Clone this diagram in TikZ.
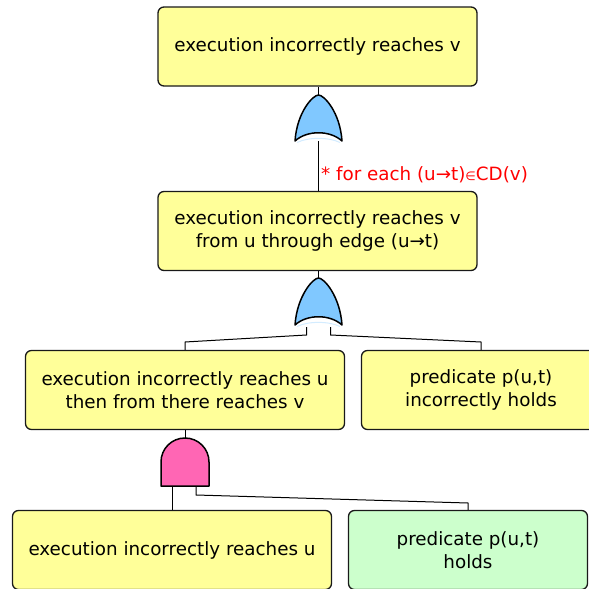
\documentclass[tikz,border=0pt]{standalone}
\usepackage{fontspec}
\setmainfont{DejaVu Sans}
\definecolor{boxyellow}{RGB}{255,255,153}
\definecolor{boxgreen}{RGB}{204,255,204}
\definecolor{gateblue}{RGB}{128,200,255}
\definecolor{gatepink}{RGB}{255,102,180}
\definecolor{edgecol}{RGB}{25,25,25}
\definecolor{labred}{RGB}{255,0,0}
\tikzset{
  event/.style={draw=edgecol, line width=1.3pt, rounded corners=6pt, fill=boxyellow,
    align=center, inner sep=0pt, minimum height=79pt,
    font=\fontsize{18.3}{23}\selectfont},
  wide/.style={minimum width=319pt},
  narrow/.style={minimum width=239pt},
  conn/.style={draw=black, line width=1pt},
  gateline/.style={draw=black, line width=1.5pt, line join=round},
  gateghost/.style={draw=gateblue!35, line width=1pt}
}
\begin{document}
\begin{tikzpicture}[x=1pt,y=-1pt]
\useasboundingbox (0,0) rectangle (589,589);
\fill[white] (0,0) rectangle (589,589);

% events
\node[event, wide] (top) at (317.5,46.5) {execution incorrectly reaches v};
\node[event, wide] (mid) at (317.5,231) {execution incorrectly reaches v\\from u through edge (u→t)};
\node[event, wide] (left) at (185,390) {execution incorrectly reaches u\\then from there reaches v};
\node[event, narrow] (right) at (481,390) {predicate p(u,t)\\incorrectly holds};
\node[event, wide] (reachu) at (172,550) {execution incorrectly reaches u};
\node[event, narrow, fill=boxgreen] (holds) at (468,550) {predicate p(u,t)\\holds};

% label
\node[text=labred, anchor=west, inner sep=0pt, font=\fontsize{18.3}{23}\selectfont] (lbl) at (321,175)
  {* for each (u→t){\fontsize{12}{12}\selectfont ∈}CD(v)};

% OR gate 1
\coordinate (g1top) at (318.5,95);
\coordinate (g1out) at (318.5,141);
\filldraw[gateline, fill=gateblue] (295,141) .. controls (297,112) and (313,95) .. (318.5,95)
  .. controls (324,95) and (340,112) .. (342,141)
  .. controls (330,130) and (307,130) .. cycle;
\draw[gateghost] (297,142.5) .. controls (308,137) and (329,137) .. (340,142.5);
\draw[conn] (top.south -| g1top) -- (g1top);
\draw[conn] (g1out) -- (mid.north -| g1out);

% OR gate 2
\coordinate (g2top) at (318.5,278);
\coordinate (g2l) at (306.5,327);
\coordinate (g2r) at (330.5,327);
\filldraw[gateline, fill=gateblue] (295,325) .. controls (297,296) and (313,278) .. (318.5,278)
  .. controls (324,278) and (340,296) .. (342,325)
  .. controls (330,314) and (307,314) .. cycle;
\draw[gateghost] (297,326.5) .. controls (308,321) and (329,321) .. (340,326.5);
\draw[conn] (mid.south -| g2top) -- (g2top);
\draw[conn] (g2l) -- (306.5,335) -- (left.north |- 0,342) -- (left.north);
\draw[conn] (g2r) -- (330.5,335) -- (right.north |- 0,342) -- (right.north);

% AND gate
\coordinate (a1top) at (185,438);
\coordinate (a1l) at (172.5,486);
\coordinate (a1r) at (196,486);
\filldraw[gateline, fill=gatepink] (161,486) -- (161,462)
  .. controls (161,448.7) and (171.7,438) .. (185,438)
  .. controls (198.3,438) and (209,448.7) .. (209,462) -- (209,486) -- cycle;
\draw[conn] (left.south -| a1top) -- (a1top);
\draw[conn] (a1l) -- (reachu.north -| a1l);
\draw[conn] (a1r) -- (196,495) -- (holds.north |- 0,503) -- (holds.north);
\end{tikzpicture}
\end{document}
